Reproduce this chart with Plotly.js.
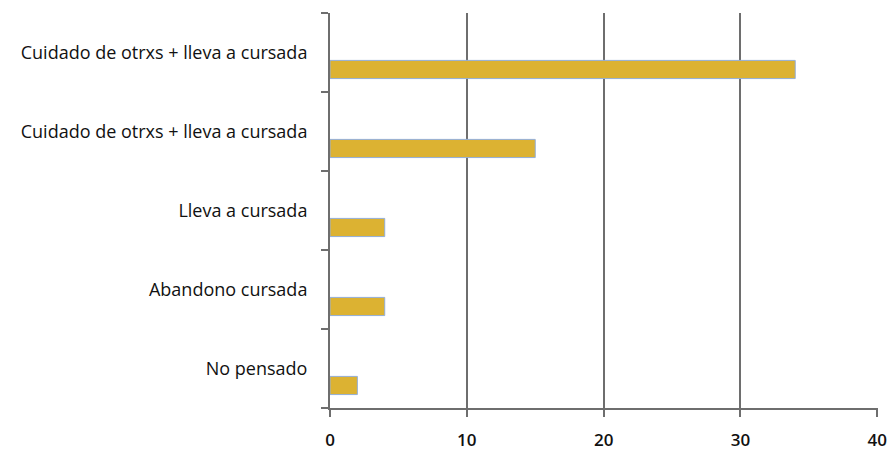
<!DOCTYPE html>
<html>
<head>
<meta charset="utf-8">
<script src="https://cdn.plot.ly/plotly-3.0.1.min.js"></script>
<style>html,body{margin:0;padding:0;background:#fff;}#chart{width:892px;height:452px;}</style>
</head>
<body>
<div id="chart"></div>
<script>
const categories = [
  "Cuidado de otrxs + lleva a cursada",
  "Cuidado de otrxs + lleva a cursada",
  "Lleva a cursada",
  "Abandono cursada",
  "No pensado"
];
const values = [34, 15, 4, 4, 2];
const xTicks = [0, 10, 20, 30, 40];

const positions = categories.map((_, i) => i);
const axisColor = "#6e6e6e";

const trace = {
  type: "bar",
  orientation: "h",
  x: values,
  y: positions,
  width: 0.23,
  offset: 0.1,
  marker: { color: "#dcb232", line: { color: "#93aed8", width: 1 } },
  hoverinfo: "x"
};

const layout = {
  width: 892, height: 452,
  margin: { l: 330, r: 14, t: 13, b: 44 },
  paper_bgcolor: "#ffffff",
  plot_bgcolor: "#ffffff",
  showlegend: false,
  font: { family: "Open Sans, sans-serif", size: 18, color: "#111111" },
  xaxis: {
    range: [0, 40.05],
    tickvals: xTicks,
    ticktext: xTicks.map(String),
    showgrid: true, gridcolor: axisColor, gridwidth: 2,
    zeroline: false,
    showline: true, linecolor: axisColor, linewidth: 2,
    ticks: "outside", ticklen: 7, tickcolor: axisColor, tickwidth: 2,
    ticklabelstandoff: 9,
    tickfont: { size: 17, color: "#111111", weight: 600 },
    fixedrange: true
  },
  yaxis: {
    range: [4.5, -0.5],
    tickvals: positions,
    ticktext: categories,
    ticks: "",
    showgrid: false, zeroline: false,
    showline: true, linecolor: axisColor, linewidth: 2,
    ticklabelstandoff: 17,
    minor: { tick0: -0.5, dtick: 1, ticks: "outside", ticklen: 7, tickcolor: axisColor, tickwidth: 2, showgrid: false },
    tickfont: { size: 18, color: "#111111" },
    fixedrange: true
  }
};

Plotly.newPlot("chart", [trace], layout, { displayModeBar: false, staticPlot: true });
</script>
</body>
</html>
